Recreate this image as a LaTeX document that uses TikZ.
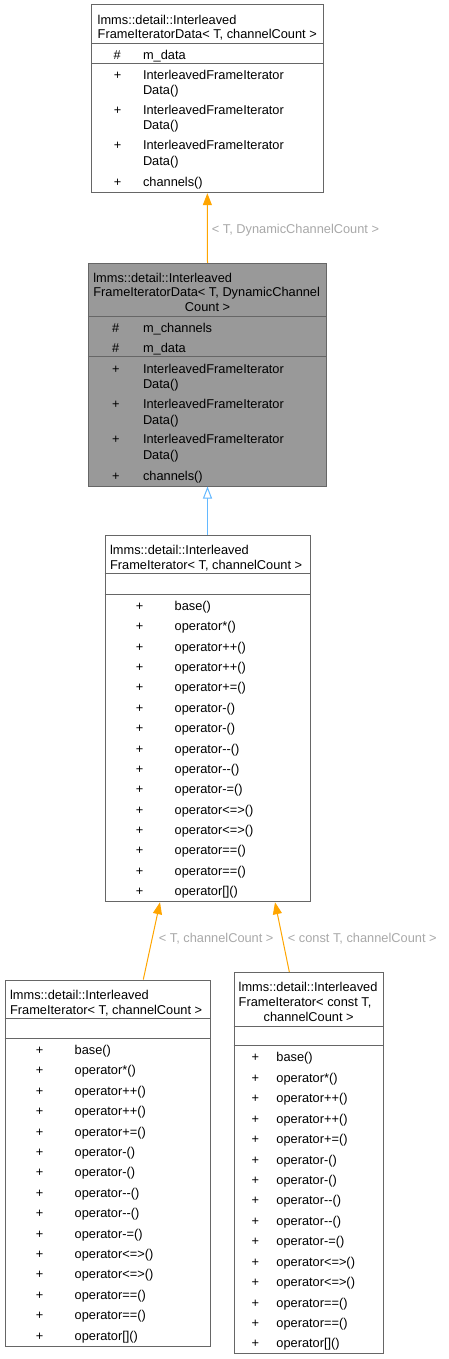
\documentclass[tikz,border=0pt]{standalone}
\usepackage{fontspec}
\setmainfont{Liberation Sans}
\usetikzlibrary{arrows.meta}
\definecolor{boxgray}{HTML}{666666}
\definecolor{fillgray}{HTML}{999999}
\definecolor{edgeorange}{HTML}{FFA500}
\definecolor{edgeblue}{HTML}{63B8FF}
\definecolor{lblgray}{HTML}{A8A8A8}
\newcommand\fs{\fontsize{12.8}{15}\selectfont}
\newcommand\opmembers[5]{%
  \foreach \t [count=\i from 0] in {base(),operator*(),operator++(),operator++(),operator+=(),operator-(),operator-(),operator-\kern0pt-(),operator-\kern0pt-(),operator-=(),operator<=>(),operator<=>(),operator==(),operator==(),operator[]()}{%
    \node[txt] (#1p\i) at (#2,{#4+#5*\i}) {+};
    \node[txt] (#1m\i) at (#3,{#4+#5*\i}) {\t};
  }%
}
\begin{document}
\begin{tikzpicture}[x=1pt,y=-1pt,
  txt/.style={font=\fs, inner sep=0pt, anchor=base west, text=black},
  ctxt/.style={font=\fs, inner sep=0pt, anchor=base, text=black},
  lbl/.style={font=\fs, inner sep=0pt, anchor=base west, text=lblgray},
  box/.style={draw=boxgray, line width=1pt, fill=white, inner sep=0pt, rectangle},
  sep/.style={draw=boxgray, line width=1pt},
  inh/.style={draw=edgeorange, line width=1pt, -{Triangle[length=12pt,width=9pt,fill=edgeorange]}},
  pubinh/.style={draw=edgeblue, line width=1pt, -{Triangle[open,length=12pt,width=9pt,fill=white]}},
]
\useasboundingbox (0,0) rectangle (448,1359);

% ---------- Box 1 ----------
\node[box, minimum width=231.3pt, minimum height=188.4pt] (b1) at (207.35,98.5) {};
\draw[sep] (b1.west |- 0,43.3) -- (b1.east |- 0,43.3);
\draw[sep] (b1.west |- 0,63.3) -- (b1.east |- 0,63.3);
\node[txt] (b1t1) at (97.5,24.3) {lmms::detail::Interleaved};
\node[txt] (b1t2) at (97.5,38.3) {FrameIteratorData< T, channelCount >};
\node[txt] (b1h1) at (113.4,59.3) {\#};
\node[txt] (b1a1) at (142.8,59.3) {m\_data};
\node[txt] (b1p1) at (113.6,80) {+};
\node[txt] (b1m1a) at (142.8,80) {InterleavedFrameIterator};
\node[txt] (b1m1b) at (142.8,95) {Data()};
\node[txt] (b1p2) at (113.6,115) {+};
\node[txt] (b1m2a) at (142.8,115) {InterleavedFrameIterator};
\node[txt] (b1m2b) at (142.8,130) {Data()};
\node[txt] (b1p3) at (113.6,150) {+};
\node[txt] (b1m3a) at (142.8,150) {InterleavedFrameIterator};
\node[txt] (b1m3b) at (142.8,165.7) {Data()};
\node[txt] (b1p4) at (113.6,186.7) {+};
\node[txt] (b1m4) at (142.8,186.7) {channels()};

% ---------- Box 2 ----------
\node[box, fill=fillgray, minimum width=238.4pt, minimum height=222.7pt] (b2) at (207.5,374.65) {};
\draw[sep] (b2.west |- 0,316.7) -- (b2.east |- 0,316.7);
\draw[sep] (b2.west |- 0,356.7) -- (b2.east |- 0,356.7);
\node[txt] (b2t1) at (93.2,282.3) {lmms::detail::Interleaved};
\node[txt] (b2t2) at (93.2,296.7) {FrameIteratorData< T, DynamicChannel};
\node[ctxt] (b2t3) at (207.5,311.7) {Count >};
\node[txt] (b2h1) at (112,332.3) {\#};
\node[txt] (b2a1) at (142.8,332.3) {m\_channels};
\node[txt] (b2h2) at (112,352.3) {\#};
\node[txt] (b2a2) at (142.8,352.3) {m\_data};
\node[txt] (b2p1) at (112,373.3) {+};
\node[txt] (b2m1a) at (142.8,373.3) {InterleavedFrameIterator};
\node[txt] (b2m1b) at (142.8,388.3) {Data()};
\node[txt] (b2p2) at (112,408.3) {+};
\node[txt] (b2m2a) at (142.8,408.3) {InterleavedFrameIterator};
\node[txt] (b2m2b) at (142.8,424.3) {Data()};
\node[txt] (b2p3) at (112,443.3) {+};
\node[txt] (b2m3a) at (142.8,443.3) {InterleavedFrameIterator};
\node[txt] (b2m3b) at (142.8,459) {Data()};
\node[txt] (b2p4) at (112,480) {+};
\node[txt] (b2m4) at (142.8,480) {channels()};

% ---------- Box 3 ----------
\node[box, minimum width=205pt, minimum height=366pt] (b3) at (207.5,718.7) {};
\draw[sep] (b3.west |- 0,573.3) -- (b3.east |- 0,573.3);
\draw[sep] (b3.west |- 0,594) -- (b3.east |- 0,594);
\node[txt] (b3t1) at (109.9,554.3) {lmms::detail::Interleaved};
\node[txt] (b3t2) at (109.9,569) {FrameIterator< T, channelCount >};
\opmembers{b3}{135.6}{174.5}{610.5}{20.36}

% ---------- Box 4 ----------
\node[box, minimum width=205pt, minimum height=366pt] (b4) at (107.5,1163) {};
\draw[sep] (b4.west |- 0,1018.3) -- (b4.east |- 0,1018.3);
\draw[sep] (b4.west |- 0,1038.3) -- (b4.east |- 0,1038.3);
\node[txt] (b4t1) at (9.9,999) {lmms::detail::Interleaved};
\node[txt] (b4t2) at (9.9,1014) {FrameIterator< T, channelCount >};
\opmembers{b4}{35.6}{74.5}{1054.5}{20.4}

% ---------- Box 5 ----------
\node[box, minimum width=149.3pt, minimum height=381pt] (b5) at (308.65,1162.8) {};
\draw[sep] (b5.west |- 0,1026) -- (b5.east |- 0,1026);
\draw[sep] (b5.west |- 0,1045.7) -- (b5.east |- 0,1045.7);
\node[txt] (b5t1) at (238.5,991.7) {lmms::detail::Interleaved};
\node[txt] (b5t2) at (238.5,1006) {FrameIterator< const T,};
\node[ctxt] (b5t3) at (308.65,1021.7) {channelCount >};
\opmembers{b5}{251.3}{276.2}{1061.9}{20.43}

% ---------- Edges ----------
\draw[inh] (b2.north) -- (b1.south);
\node[lbl] (l1) at (211.7,233.5) {< T, DynamicChannelCount >};
\draw[pubinh] (b3.north) -- (b2.south);
\draw[inh] (b4.north -| 143.3,0) -- (b3.south -| 160,0);
\draw[inh] (b5.north -| 289.3,0) -- (b3.south -| 275,0);
\node[lbl] (l2) at (158.7,942.8) {< T, channelCount >};
\node[lbl] (l3) at (287.7,942.8) {< const T, channelCount >};
\end{tikzpicture}
\end{document}
